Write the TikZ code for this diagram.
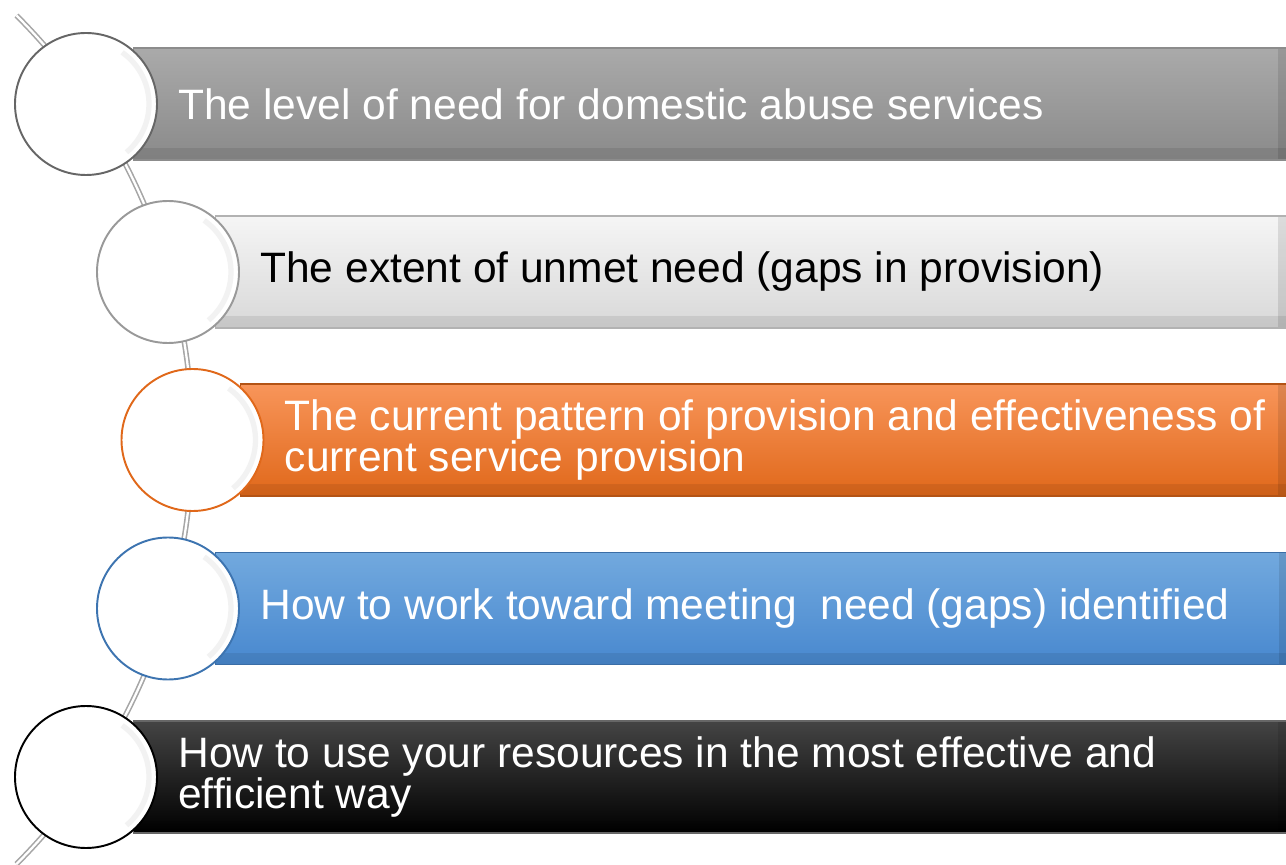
\documentclass[tikz,border=0pt]{standalone}
\usepackage{fontspec}
\setmainfont{Liberation Sans}
\usetikzlibrary{positioning,backgrounds}

\definecolor{greyTop}{HTML}{AAAAAA}
\definecolor{greyBot}{HTML}{8A8A8A}
\definecolor{paleTop}{HTML}{F5F5F5}
\definecolor{paleBot}{HTML}{D8D8D8}
\definecolor{orangeTop}{HTML}{F8955A}
\definecolor{orangeMid}{HTML}{FB7F2A}
\definecolor{orangeBot}{HTML}{E0681A}
\definecolor{blueTop}{HTML}{72A9DE}
\definecolor{blueMid}{HTML}{5CA3E6}
\definecolor{blueBot}{HTML}{4888CF}
\definecolor{blackTop}{HTML}{444444}

\begin{document}
\begin{tikzpicture}
  \useasboundingbox (0,0) rectangle (25.72,-17.30);
  \tikzset{
    bead/.style={circle,fill=white,minimum size=2.84cm,inner sep=0pt,line width=1.1pt,
      path picture={\draw[black!5,line width=3pt] (path picture bounding box.center)
        ++(-50:1.26) arc[start angle=-50,end angle=55,radius=1.26];}},
    band/.style={rectangle,minimum height=2.24cm,inner sep=0pt,line width=0.6pt,
      path picture={
        \fill[black,opacity=.08] ([yshift=0.24cm]path picture bounding box.south west)
          rectangle (path picture bounding box.south east);
        \fill[black,opacity=.10] ([xshift=-0.18cm]path picture bounding box.north east)
          rectangle (path picture bounding box.south east);}},
    itemText/.style={inner sep=0pt,align=left,font=\fontsize{24.2}{23.4}\selectfont},
    rail/.style={draw=black!35,double=white,double distance=1.3pt,line width=0.9pt}
  }

  % beads along the rail
  \node [bead,draw=black!60] (c1) at (1.72,-2.08)  {};
  \node [bead,draw=black!40] (c2) at (3.36,-5.44)  {};
  \node [bead,draw=orangeBot] (c3) at (3.85,-8.80) {};
  \node [bead,draw=blueBot!85!black] (c4) at (3.36,-12.17) {};
  \node [bead,draw=black] (c5) at (1.72,-15.54) {};

  % rail and bands behind the beads
  \begin{scope}[on background layer]
    \coordinate (railTop) at (0.33,-0.31);
    \draw [rail] (railTop) arc[start angle=45,end angle=-45,radius=12];

    \node [band,minimum width=23.06cm,right=0.94cm of c1.center,draw=black!45,
      top color=greyTop,bottom color=greyBot] (b1) {};
    \node [band,minimum width=21.42cm,right=0.94cm of c2.center,draw=black!30,
      top color=paleTop,bottom color=paleBot] (b2) {};
    \node [band,minimum width=20.93cm,right=0.94cm of c3.center,draw=orangeBot!80!black,
      top color=orangeTop,middle color=orangeMid,bottom color=orangeBot] (b3) {};
    \node [band,minimum width=21.44cm,right=0.94cm of c4.center,draw=blueBot!80!black,
      top color=blueTop,middle color=blueMid,bottom color=blueBot] (b4) {};
    \node [band,minimum width=23.06cm,right=0.94cm of c5.center,draw=black!60,
      top color=blackTop,middle color=black,bottom color=black] (b5) {};
  \end{scope}

  % Labels
  \node [itemText,text=white,right=0.4cm of c1] (t1)
    {The level of need for domestic abuse services};
  \node [itemText,text=black,right=0.4cm of c2] (t2)
    {The extent of unmet need (gaps in provision)};
  \node [itemText,text=white,right=0.4cm of c3] (t3)
    {The current pattern of provision and effectiveness of\\current service provision};
  \node [itemText,text=white,right=0.4cm of c4] (t4)
    {How to work toward meeting~ need (gaps) identified};
  \node [itemText,text=white,right=0.4cm of c5] (t5)
    {How to use your resources in the most effective and\\efficient way};

\end{tikzpicture}
\end{document}
